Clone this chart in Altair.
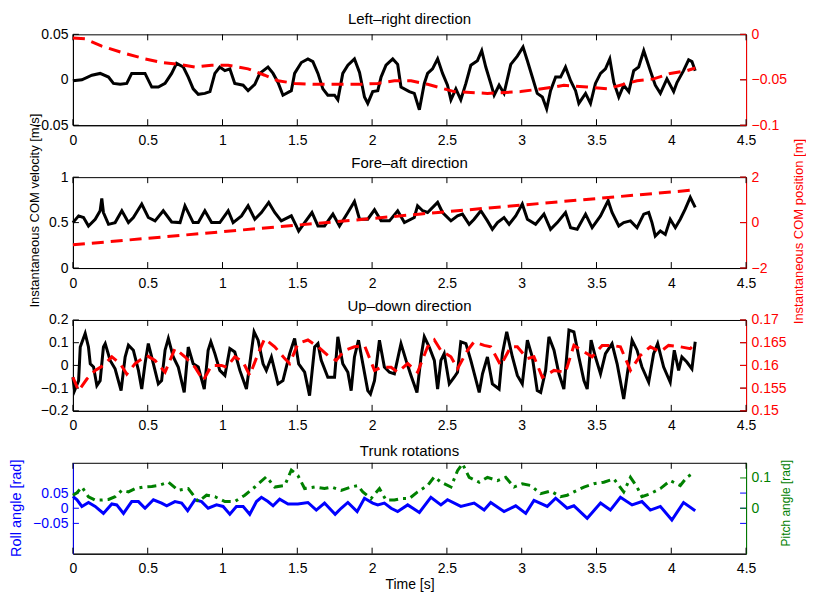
import altair as alt
import pandas as pd

# ---------------- data ----------------
# Panel 1: left-right
lr_vel_t = [0.000,0.060,0.127,0.182,0.238,0.271,0.316,0.360,0.393,0.449,0.482,0.527,0.571,0.616,0.660,0.693,0.738,0.771,0.804,0.838,0.882,0.916,0.949,0.982,1.016,1.049,1.082,1.138,1.171,1.216,1.249,1.304,1.338,1.371,1.404,1.460,1.482,1.527,1.571,1.604,1.638,1.671,1.704,1.749,1.771,1.804,1.838,1.882,1.916,1.949,1.971,2.004,2.038,2.060,2.093,2.138,2.171,2.193,2.249,2.282,2.316,2.349,2.371,2.404,2.438,2.471,2.504,2.527,2.560,2.593,2.627,2.660,2.704,2.733,2.760,2.793,2.816,2.849,2.882,2.927,2.971,3.009,3.038,3.071,3.104,3.138,3.167,3.193,3.227,3.260,3.293,3.327,3.360,3.382,3.427,3.460,3.493,3.527,3.560,3.589,3.616,3.649,3.682,3.716,3.749,3.782,3.816,3.860,3.893,3.927,3.971,4.016,4.038,4.082,4.116,4.138,4.160]
lr_vel_v = [-0.001,0.000,0.005,0.007,0.003,-0.004,-0.005,-0.004,0.007,0.007,0.007,-0.008,-0.008,-0.004,0.007,0.018,0.014,0.003,-0.010,-0.016,-0.015,-0.013,0.007,0.014,0.010,0.012,-0.004,-0.006,-0.012,-0.005,0.007,0.014,0.007,-0.003,-0.017,-0.012,0.007,0.019,0.023,0.020,0.007,-0.010,-0.017,-0.017,-0.022,0.007,0.016,0.023,0.008,-0.019,-0.026,-0.013,-0.012,0.003,0.016,0.023,0.017,-0.008,-0.013,-0.015,-0.033,-0.004,0.007,0.012,0.023,0.007,-0.006,-0.022,-0.010,-0.022,-0.004,0.016,0.021,0.032,0.014,-0.004,-0.017,-0.006,-0.015,0.017,0.026,0.036,0.021,0.003,-0.015,-0.019,-0.032,-0.012,0.003,0.003,0.014,-0.001,-0.012,-0.026,-0.015,-0.026,-0.004,0.007,0.012,0.023,-0.003,-0.019,-0.006,-0.013,0.010,0.014,0.032,0.010,-0.006,-0.015,0.001,-0.013,-0.003,0.010,0.022,0.020,0.010]
lr_pos_t = [0.000,0.082,0.193,0.327,0.482,0.593,0.704,0.816,0.927,1.038,1.171,1.282,1.371,1.482,1.616,1.816,1.927,2.038,2.149,2.260,2.371,2.438,2.549,2.771,2.993,3.216,3.282,3.438,3.571,3.660,3.771,3.882,3.993,4.104,4.160]
lr_pos_v = [-0.004,-0.005,-0.013,-0.020,-0.027,-0.031,-0.033,-0.036,-0.034,-0.034,-0.038,-0.045,-0.051,-0.054,-0.055,-0.055,-0.055,-0.054,-0.051,-0.051,-0.055,-0.058,-0.063,-0.065,-0.063,-0.058,-0.056,-0.058,-0.060,-0.056,-0.051,-0.049,-0.043,-0.040,-0.037]

# Panel 2: fore-aft
fa_vel_t = [0.000,0.038,0.071,0.104,0.149,0.182,0.193,0.204,0.238,0.282,0.327,0.371,0.404,0.460,0.504,0.549,0.604,0.660,0.716,0.749,0.804,0.838,0.882,0.927,0.982,1.038,1.071,1.127,1.171,1.216,1.260,1.309,1.349,1.393,1.460,1.493,1.509,1.549,1.598,1.638,1.682,1.738,1.782,1.838,1.882,1.916,1.971,2.016,2.060,2.116,2.171,2.216,2.282,2.304,2.338,2.371,2.438,2.471,2.527,2.571,2.604,2.649,2.682,2.727,2.771,2.804,2.838,2.882,2.916,2.960,3.004,3.038,3.093,3.149,3.193,3.238,3.293,3.327,3.371,3.427,3.471,3.527,3.578,3.604,3.649,3.682,3.727,3.771,3.816,3.849,3.871,3.893,3.927,3.960,3.993,4.027,4.060,4.093,4.127,4.160]
fa_vel_v = [0.500,0.574,0.556,0.463,0.537,0.630,0.767,0.611,0.481,0.500,0.630,0.500,0.556,0.704,0.556,0.519,0.630,0.507,0.500,0.685,0.500,0.500,0.630,0.500,0.500,0.630,0.500,0.574,0.685,0.537,0.611,0.722,0.611,0.519,0.574,0.463,0.407,0.500,0.611,0.463,0.463,0.593,0.463,0.611,0.733,0.537,0.537,0.641,0.519,0.519,0.630,0.500,0.556,0.685,0.630,0.611,0.722,0.611,0.519,0.574,0.593,0.481,0.537,0.630,0.519,0.426,0.500,0.556,0.481,0.574,0.704,0.537,0.481,0.593,0.426,0.500,0.611,0.444,0.426,0.593,0.444,0.574,0.741,0.611,0.463,0.500,0.519,0.444,0.593,0.611,0.500,0.352,0.407,0.370,0.537,0.444,0.537,0.648,0.778,0.667]
fa_pos_t = [0.000,1.000,2.000,2.327,3.000,4.160]
fa_pos_v = [-0.98,-0.40,0.18,0.38,0.77,1.44]

# Panel 3: up-down
ud_vel_t = [0.000,0.011,0.038,0.049,0.082,0.104,0.116,0.138,0.160,0.182,0.204,0.216,0.249,0.282,0.322,0.349,0.371,0.404,0.438,0.460,0.482,0.504,0.538,0.571,0.593,0.616,0.638,0.671,0.704,0.744,0.771,0.804,0.838,0.878,0.904,0.922,0.949,0.982,1.016,1.049,1.082,1.116,1.160,1.182,1.211,1.238,1.271,1.293,1.327,1.371,1.404,1.449,1.482,1.509,1.549,1.582,1.616,1.638,1.660,1.704,1.749,1.771,1.804,1.838,1.860,1.882,1.909,1.938,1.971,1.989,2.016,2.049,2.082,2.116,2.149,2.193,2.227,2.260,2.300,2.327,2.349,2.382,2.416,2.438,2.460,2.482,2.516,2.549,2.571,2.593,2.627,2.660,2.716,2.738,2.771,2.804,2.849,2.871,2.900,2.938,2.971,3.004,3.038,3.071,3.104,3.127,3.160,3.182,3.216,3.249,3.282,3.316,3.349,3.382,3.416,3.438,3.464,3.493,3.527,3.560,3.604,3.638,3.682,3.716,3.738,3.771,3.804,3.849,3.882,3.909,3.949,3.993,4.020,4.049,4.071,4.104,4.138,4.160]
ud_vel_v = [-0.052,-0.111,-0.067,0.081,0.141,0.081,0.007,-0.007,-0.089,-0.067,0.081,0.096,0.022,-0.015,-0.111,0.037,0.089,0.067,-0.022,-0.104,0.007,0.096,0.007,-0.081,-0.067,0.067,0.119,0.037,-0.007,-0.119,0.081,0.007,-0.007,-0.104,0.067,0.104,0.052,-0.022,-0.044,0.074,0.059,-0.022,-0.104,0.007,0.148,0.111,0.007,-0.022,0.037,-0.081,-0.067,0.052,0.119,0.007,-0.030,-0.133,0.081,0.096,0.022,-0.052,-0.052,0.126,0.007,-0.030,-0.111,0.037,0.111,0.007,-0.111,-0.126,-0.067,0.111,-0.007,-0.030,-0.037,0.096,0.022,-0.044,-0.119,0.037,0.126,0.081,0.022,-0.104,0.022,0.052,-0.081,-0.052,-0.030,0.104,0.096,0.022,-0.119,-0.037,0.037,-0.081,-0.104,0.052,0.148,0.037,-0.044,-0.081,0.111,0.037,-0.111,-0.119,-0.022,0.126,0.067,-0.037,-0.104,0.156,0.148,0.037,-0.067,-0.104,0.111,0.037,-0.037,0.052,0.096,0.007,-0.148,0.007,0.111,0.067,-0.007,-0.074,0.052,0.096,-0.007,-0.074,0.067,-0.022,0.037,0.015,-0.015,0.104]
ud_pos_t = [0.000,0.038,0.093,0.149,0.204,0.260,0.316,0.360,0.416,0.493,0.549,0.616,0.682,0.749,0.816,0.871,0.927,0.993,1.027,1.082,1.138,1.182,1.238,1.282,1.349,1.416,1.449,1.504,1.571,1.638,1.704,1.760,1.816,1.882,1.949,2.016,2.060,2.127,2.171,2.238,2.304,2.371,2.416,2.460,2.527,2.571,2.638,2.682,2.749,2.793,2.860,2.927,2.971,3.038,3.082,3.138,3.216,3.293,3.349,3.416,3.471,3.538,3.604,3.660,3.727,3.793,3.860,3.927,3.982,4.060,4.127,4.160]
ud_pos_v = [0.1574,0.1544,0.1570,0.1589,0.1600,0.1619,0.1604,0.1581,0.1604,0.1622,0.1611,0.1585,0.1637,0.1619,0.1596,0.1567,0.1600,0.1600,0.1596,0.1619,0.1607,0.1578,0.1626,0.1659,0.1641,0.1615,0.1604,0.1648,0.1656,0.1641,0.1622,0.1611,0.1633,0.1641,0.1644,0.1589,0.1596,0.1596,0.1585,0.1604,0.1585,0.1641,0.1656,0.1633,0.1619,0.1593,0.1633,0.1652,0.1644,0.1641,0.1600,0.1641,0.1641,0.1615,0.1619,0.1574,0.1589,0.1585,0.1644,0.1630,0.1619,0.1644,0.1644,0.1641,0.1589,0.1622,0.1641,0.1630,0.1644,0.1641,0.1637,0.1648]

# Panel 4: trunk rotations
roll_t = [0.000,0.027,0.060,0.104,0.149,0.204,0.260,0.293,0.338,0.393,0.438,0.482,0.538,0.593,0.627,0.682,0.727,0.767,0.816,0.860,0.904,0.960,1.004,1.049,1.093,1.138,1.182,1.227,1.260,1.304,1.338,1.382,1.438,1.504,1.571,1.627,1.682,1.753,1.793,1.838,1.900,1.949,2.004,2.038,2.082,2.127,2.171,2.238,2.316,2.393,2.460,2.504,2.593,2.682,2.749,2.793,2.882,2.960,3.027,3.082,3.171,3.227,3.304,3.349,3.438,3.527,3.593,3.660,3.738,3.804,3.860,3.927,4.004,4.082,4.160]
roll_v = [0.039,0.028,0.006,0.019,0.006,-0.017,0.014,0.011,-0.017,0.022,0.022,0.000,0.028,0.017,0.008,0.022,0.017,-0.008,0.028,0.022,0.000,0.011,0.006,-0.020,0.006,0.006,-0.020,0.022,0.036,0.022,0.008,0.030,0.014,0.014,0.019,-0.006,0.017,-0.020,0.000,0.019,-0.011,0.033,0.017,0.011,0.017,0.000,-0.011,0.011,-0.014,0.036,0.011,0.028,0.006,0.017,-0.006,0.019,-0.011,0.008,-0.017,0.026,0.006,0.033,0.000,0.008,-0.033,0.017,-0.006,0.036,0.011,0.022,-0.006,0.006,-0.039,0.019,-0.008]
pitch_t = [0.000,0.027,0.060,0.104,0.149,0.193,0.238,0.282,0.327,0.371,0.416,0.471,0.527,0.571,0.638,0.704,0.771,0.838,0.893,0.949,1.016,1.082,1.149,1.216,1.293,1.349,1.416,1.460,1.504,1.549,1.616,1.682,1.727,1.793,1.860,1.904,1.938,1.993,2.049,2.093,2.149,2.193,2.249,2.304,2.371,2.416,2.460,2.527,2.571,2.604,2.649,2.716,2.771,2.838,2.893,2.949,3.004,3.060,3.127,3.193,3.260,3.304,3.349,3.416,3.482,3.549,3.616,3.682,3.727,3.771,3.804,3.860,3.927,3.993,4.060,4.104,4.138]
pitch_v = [0.043,0.051,0.070,0.038,0.027,0.027,0.029,0.038,0.059,0.054,0.065,0.070,0.072,0.075,0.086,0.059,0.065,0.022,0.043,0.038,0.022,0.022,0.043,0.070,0.104,0.070,0.075,0.126,0.108,0.065,0.070,0.065,0.070,0.059,0.070,0.075,0.054,0.032,0.065,0.027,0.027,0.032,0.032,0.054,0.075,0.104,0.086,0.070,0.124,0.147,0.102,0.086,0.102,0.091,0.102,0.070,0.081,0.075,0.048,0.057,0.038,0.043,0.054,0.070,0.081,0.086,0.097,0.054,0.102,0.070,0.038,0.048,0.065,0.091,0.075,0.102,0.113]

x_ticks = [0, 0.5, 1, 1.5, 2, 2.5, 3, 3.5, 4, 4.5]

# ---------------- chart ----------------
W, H = 674, 91
FONT = "Liberation Sans"
RED, BLUE, GREEN, BLACK = "#ff0000", "#0000ff", "#008000", "#000000"
XDOM = [0, 4.5]
TL = 6  # inward tick length


def x_axis(title):
    kw = dict(values=x_ticks, format="~g", ticks=False, tickSize=0, labelPadding=8,
              labelFlush=False, labelOverlap=False, domainColor=BLACK, grid=False,
              labelFontSize=14, labelColor=BLACK)
    if title:
        kw.update(title=title, titleFontSize=14, titleFontWeight="normal", titlePadding=2,
                  titleColor=BLACK)
    else:
        kw.update(title=None)
    return alt.Axis(**kw)


def y_axis(orient, ticks, color, title=None, tx=0, ty=0, tsize=13):
    kw = dict(orient=orient, values=ticks, format="~g", ticks=False, tickSize=0,
              labelPadding=5, domainColor=color, labelColor=color, grid=False,
              labelFontSize=14, labelOverlap=False, labelFlush=False,
              labelBaseline="middle")
    if title:
        kw.update(title=title, titleX=tx, titleY=ty, titleAngle=270, titleAlign="center",
                  titleBaseline="middle", titleColor=color, titleFontSize=tsize,
                  titleFontWeight="normal")
    else:
        kw.update(title=None)
    return alt.Axis(**kw)


def xenc(field, xaxis):
    return alt.X(field, scale=alt.Scale(domain=XDOM, nice=False), axis=xaxis)


def yenc(field, dom, yaxis):
    return alt.Y(field, scale=alt.Scale(domain=dom, nice=False, zero=False), axis=yaxis)


def line(t, v, color, dom, yaxis, xaxis, dash=None):
    df = pd.DataFrame({"t": t, "v": v})
    mk = dict(color=color, strokeWidth=3)
    if dash:
        mk["strokeDash"] = dash
    return alt.Chart(df).mark_line(**mk).encode(
        x=xenc("t:Q", xaxis), y=yenc("v:Q", dom, yaxis))


def y_tickmarks(vals, dom, color, side, yaxis):
    df = pd.DataFrame({"tick": vals})
    xa, xb = (0, TL) if side == "left" else (W - TL, W)
    return alt.Chart(df).mark_rule(color=color, strokeWidth=1).encode(
        y=yenc("tick:Q", dom, yaxis), x=alt.value(xa), x2=alt.value(xb))


def x_tickmarks(top, xaxis):
    df = pd.DataFrame({"tick": x_ticks})
    ya, yb = (0, TL) if top else (H - TL, H)
    return alt.Chart(df).mark_rule(color=BLACK, strokeWidth=1).encode(
        x=xenc("tick:Q", xaxis), y=alt.value(ya), y2=alt.value(yb))


def panel(title, toff, s1, s2, ldom, lticks, lcol, rdom, rticks, rcol, c1, c2, dash2,
          ltitle=None, rtitle=None, xtitle=None):
    xa = x_axis(xtitle)
    la = y_axis("left", lticks, lcol, **(ltitle or {}))
    ra = y_axis("right", rticks, rcol, **(rtitle or {}))
    left = alt.layer(
        line(s1[0], s1[1], c1, ldom, la, xa),
        x_tickmarks(True, xa), x_tickmarks(False, xa),
        y_tickmarks(lticks, ldom, lcol, "left", la),
        y_tickmarks(lticks, ldom, lcol, "right", la),
    )
    right = alt.layer(
        line(s2[0], s2[1], c2, rdom, ra, xa, dash=dash2),
        y_tickmarks(rticks, rdom, rcol, "right", ra),
    )
    return alt.layer(left, right).resolve_scale(y="independent").properties(
        width=W, height=H,
        title=alt.TitleParams(title, fontSize=15, font=FONT, fontWeight="normal",
                              anchor="middle", frame="group", offset=toff,
                              baseline="alphabetic", color=BLACK),
    )


p1 = panel("Left–right direction", -12, (lr_vel_t, lr_vel_v), (lr_pos_t, lr_pos_v),
           [-0.05, 0.05], [-0.05, 0, 0.05], BLACK,
           [-0.1, 0], [-0.1, -0.05, 0], RED, BLACK, RED, [12, 7])
p2 = panel("Fore–aft direction", -70, (fa_vel_t, fa_vel_v), (fa_pos_t, fa_pos_v),
           [0, 1], [0, 0.5, 1], BLACK,
           [-2, 2], [-2, 0, 2], RED, BLACK, RED, [12, 7],
           ltitle=dict(title="Instantaneous COM velocity [m/s]", tx=-38, ty=33),
           rtitle=dict(title="Instantaneous COM position [m]", tx=52, ty=54))
p3 = panel("Up–down direction", -13, (ud_vel_t, ud_vel_v), (ud_pos_t, ud_pos_v),
           [-0.2, 0.2], [-0.2, -0.1, 0, 0.1, 0.2], BLACK,
           [0.15, 0.17], [0.15, 0.155, 0.16, 0.165, 0.17], RED, BLACK, RED, [12, 7])
p4 = panel("Trunk rotations", -13, (roll_t, roll_v), (pitch_t, pitch_v),
           [-0.15, 0.15], [-0.05, 0, 0.05], BLUE,
           [-0.15, 0.15], [0, 0.1], GREEN, BLUE, GREEN, [9, 5, 3, 5],
           ltitle=dict(title="Roll angle [rad]", tx=-56, ty=45, tsize=14.5),
           rtitle=dict(title="Pitch angle [rad]", tx=39, ty=40, tsize=12),
           xtitle="Time [s]")

chart = alt.vconcat(p1, p2, p3, p4, spacing=52, bounds="flush").properties(
    padding={"left": 0, "top": 3, "right": 0, "bottom": 0}
).configure_view(stroke=BLACK, strokeWidth=1).configure_axis(
    labelFont=FONT, titleFont=FONT
).configure_title(font=FONT)

chart.save("out.html", embed_options={"renderer": "svg", "actions": False})
